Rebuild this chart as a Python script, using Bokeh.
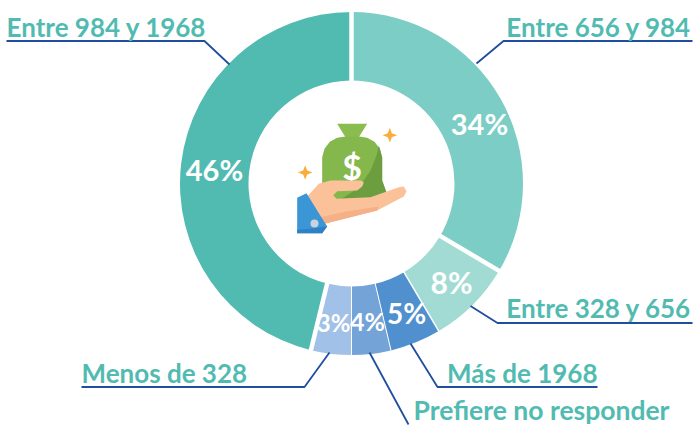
import math
from bokeh.plotting import figure
from bokeh.models import Range1d
from bokeh.core.properties import value
from bokeh.embed import file_html
from bokeh.resources import INLINE

# ---- data ----
categories = ["Entre 656 y 984", "Entre 328 y 656", "Más de 1968",
              "Prefiere no responder", "Menos de 328", "Entre 984 y 1968"]
shares = [33.5, 8.0, 4.8, 3.7, 3.8, 46.2]
pct_labels = ["34%", "8%", "5%", "4%", "3%", "46%"]

# ---- style ----
slice_colors = ["#7BCDC5", "#A2DBD4", "#5090CE", "#74A3D8", "#A1C1E8", "#52BBB1"]
gap_after = [4.5, 1.5, 1, 1, 4.5, 4.5]
FONT = "Lato"
TEAL = "#52BBB1"
NAVY = "#1F4E9E"
W, H = 694, 425
CX, CY, R_OUT, R_IN = 351, 183, 171.5, 103

p = figure(width=W, height=H, output_backend="svg", toolbar_location=None,
           x_range=Range1d(0, W), y_range=Range1d(0, H),
           min_border=0, outline_line_color=None, margin=(0, 0, 0, 0))
p.axis.visible = False
p.grid.visible = False
p.background_fill_color = "white"
p.border_fill_color = "white"

def Y(py):
    return H - py

# donut
cum = 0.0
starts, ends = [], []
for s in shares:
    starts.append(math.pi / 2 - cum / 100 * 2 * math.pi)
    cum += s
    ends.append(math.pi / 2 - cum / 100 * 2 * math.pi)
p.annular_wedge(x=[CX] * 6, y=[Y(CY)] * 6, inner_radius=R_IN, outer_radius=R_OUT,
                start_angle=starts, end_angle=ends, direction="clock",
                fill_color=slice_colors, line_color=None)
for a, g in zip(ends, gap_after):
    p.line([CX + (R_IN - 2) * math.cos(a), CX + (R_OUT + 2) * math.cos(a)],
           [Y(CY) + (R_IN - 2) * math.sin(a), Y(CY) + (R_OUT + 2) * math.sin(a)],
           line_color="white", line_width=g)

# leader lines
leaders = {
    "Entre 656 y 984": [(476, 63), (503, 40.5), (692, 40.5)],
    "Entre 328 y 656": [(470, 305.5), (497, 322.5), (692, 322.5)],
    "Más de 1968": [(410, 343), (437, 386.5), (597, 386.5)],
    "Prefiere no responder": [(369, 352), (408, 424)],
    "Menos de 328": [(329, 352), (304, 386.5), (81, 386.5)],
    "Entre 984 y 1968": [(229, 64), (204, 40.5), (6, 40.5)],
}
for pts in leaders.values():
    p.line([a for a, _ in pts], [Y(b) for _, b in pts], line_color=NAVY, line_width=1.8)

# category labels
label_pos = {
    "Entre 656 y 984": (691, 26, "right"),
    "Entre 328 y 656": (691, 307, "right"),
    "Más de 1968": (597, 372, "right"),
    "Prefiere no responder": (413, 409, "left"),
    "Menos de 328": (81, 372, "left"),
    "Entre 984 y 1968": (6, 26, "left"),
}
for c in categories:
    x, y, al = label_pos[c]
    p.text([x], [Y(y)], text=[c], text_color=TEAL, text_font=value(FONT),
           text_font_size="26.5px" if c.startswith("Prefiere") else "26px",
           text_font_style="bold", text_align=al, text_baseline="middle")

# pct labels
pct_style = [(479, 123, 29), (451, 281, 30), (406, 312, 28), (367, 320, 25), (333, 322, 24), (214, 169, 29)]
for t, (x, y, fs) in zip(pct_labels, pct_style):
    p.text([x], [Y(y)], text=[t], text_color="white", text_font=value(FONT),
           text_font_size=f"{fs}px", text_font_style="bold", text_align="center",
           text_baseline="middle")

# icon, drawn in zoom-crop coordinates
def shape(pts, color):
    p.patch([230 + a / 3 for a, _ in pts], [Y(100 + b / 3) for _, b in pts],
            fill_color=color, line_color=None)

shape([(320, 70), (410, 70), (385, 110), (345, 110)], "#8ABC50")  # knot
shape([(345, 108), (385, 108), (410, 112), (432, 124), (448, 145), (455, 170), (455, 240), (470, 282),
       (330, 296), (310, 295), (275, 250), (275, 170), (282, 145), (298, 124), (320, 112)], "#85B84C")
shape([(445, 135), (455, 170), (455, 240), (470, 282), (440, 292), (330, 296), (385, 262), (420, 210), (438, 165)], "#6C9E40")

p.text([230 + 365 / 3], [Y(100 + 198 / 3)], text=["$"], text_color="white", text_font=value(FONT),
       text_font_size="34px", text_font_style="bold", text_align="center", text_baseline="middle")

shape([(228, 290), (265, 250), (300, 240), (392, 240), (400, 246), (395, 258), (380, 270), (320, 272),
       (308, 284), (318, 295), (420, 290), (505, 260), (520, 258), (528, 272), (520, 288),
       (440, 330), (280, 370)], "#FBC29A")
shape([(268, 350), (350, 332), (445, 318), (440, 330), (290, 368), (280, 370)], "#F5B088")
shape([(200, 292), (228, 278), (290, 378), (275, 398), (200, 398)], "#3A96D4")
shape([(200, 398), (200, 388), (240, 385), (290, 378), (275, 398)], "#2F80C4")
p.scatter([230 + 252 / 3], [Y(100 + 369 / 3)], size=8, marker="circle",
          fill_color="#C8D3DF", line_color=None)

for zx, zy in [(478, 104), (224, 216)]:
    r, q = 22, 6
    shape([(zx, zy - r), (zx + q, zy - q), (zx + r, zy), (zx + q, zy + q),
           (zx, zy + r), (zx - q, zy + q), (zx - r, zy), (zx - q, zy - q)], "#F9AE3B")

open("out.html", "w").write(file_html(p, INLINE))
